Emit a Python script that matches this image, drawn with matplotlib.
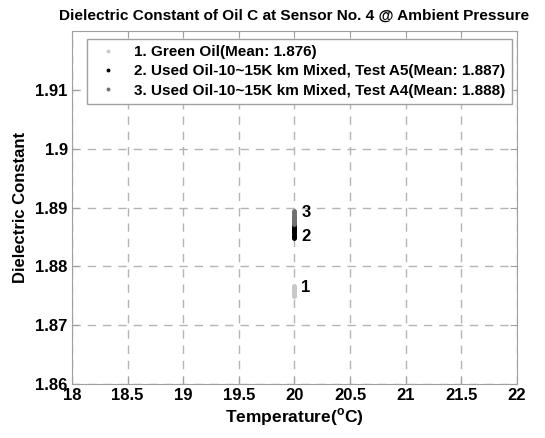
import numpy as np
import matplotlib
matplotlib.use('Agg')
import matplotlib.pyplot as plt

plt.rcParams['font.family'] = ['Liberation Sans', 'DejaVu Sans']
plt.rcParams['font.weight'] = 'bold'
plt.rcParams['mathtext.fontset'] = 'custom'
plt.rcParams['mathtext.bf'] = 'Liberation Sans:bold'
plt.rcParams['mathtext.rm'] = 'Liberation Sans:bold'

# temperature readings (all at 20 C)
temp1 = [20.0] * 12
temp2 = [20.0] * 14
temp3 = [20.0] * 12

# dielectric constant readings
green_oil = [1.8749, 1.8751, 1.8753, 1.8755, 1.8757, 1.8758, 1.8760, 1.8761, 1.8762, 1.8764, 1.8765, 1.8767]
used_a5 = [1.8848, 1.8850, 1.8852, 1.8854, 1.8856, 1.8858, 1.8860, 1.8862, 1.8864, 1.8866, 1.8868, 1.8870, 1.8873, 1.8876]
used_a4 = [1.8872, 1.8874, 1.8876, 1.8878, 1.8880, 1.8882, 1.8884, 1.8886, 1.8888, 1.8890, 1.8892, 1.8894]

names = ['1. Green Oil(Mean: 1.876)',
         '2. Used Oil-10~15K km Mixed, Test A5(Mean: 1.887)',
         '3. Used Oil-10~15K km Mixed, Test A4(Mean: 1.888)']
colors = ['#c8c8c8', '#000000', '#707070']
tags = ['1', '2', '3']

xticks = [18, 18.5, 19, 19.5, 20, 20.5, 21, 21.5, 22]
yticks = [1.86, 1.87, 1.88, 1.89, 1.9, 1.91]

fig = plt.figure(figsize=(5.45, 4.38), dpi=100)
ax = fig.add_axes([0.132, 0.1233, 0.8166, 0.8057])

series = [(temp1, green_oil), (temp2, used_a5), (temp3, used_a4)]
for (t, d), nm, c in zip(series, names, colors):
    ax.plot(t, d, 'o', color=c, markersize=3.5, markeredgewidth=0, label=nm)

# numbered tags next to each group
for (t, d), tg in zip(series, tags):
    ax.text(t[0] + 0.06, max(d) - 0.0003 if tg != '2' else min(d) + 0.0002, tg,
            fontsize=12, fontweight='bold', va='center', ha='left')

ax.set_xlim(18, 22)
ax.set_ylim(1.86, 1.92)
ax.set_xticks(xticks)
ax.set_xticklabels([('%g' % v) for v in xticks])
ax.set_yticks(yticks)
ax.set_yticklabels([('%g' % v) for v in yticks])
ax.grid(True, linestyle=(0, (6, 5)), color='#b4b4b4', linewidth=1)
ax.tick_params(direction='in', top=True, right=True, length=5, color='#a0a0a0',
               labelsize=12, pad=3)
for sp in ax.spines.values():
    sp.set_color('#a0a0a0')

ax.set_xlabel('Temperature($^{\\mathbf{o}}$C)', fontsize=12.5, fontweight='bold', labelpad=2)
ax.set_ylabel('Dielectric Constant', fontsize=12, fontweight='bold', labelpad=5)
ax.set_title('Dielectric Constant of Oil C at Sensor No. 4 @ Ambient Pressure',
             fontsize=11.1, fontweight='bold', pad=8)

leg = ax.legend(loc='upper left', bbox_to_anchor=(0.034, 0.978), borderaxespad=0,
                fancybox=False, framealpha=1, edgecolor='#a0a0a0', fontsize=11,
                markerscale=0.8, handlelength=2.0, handletextpad=0.7,
                labelspacing=0.35, borderpad=0.4)
leg.get_frame().set_linewidth(1)

fig.savefig('out.png', dpi=100)
